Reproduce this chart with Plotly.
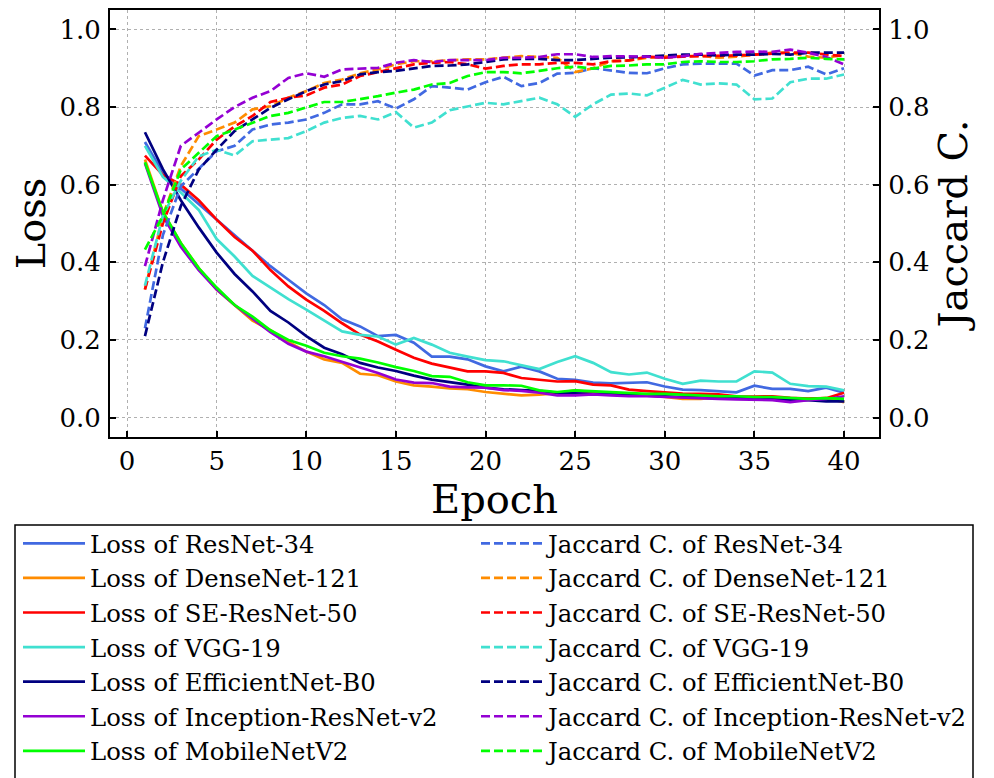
import plotly.graph_objects as go

epochs = list(range(1, 41))

models = ["ResNet-34", "DenseNet-121", "SE-ResNet-50", "VGG-19",
          "EfficientNet-B0", "Inception-ResNet-v2", "MobileNetV2"]
colors = ["#4169E1", "#FF8C00", "#FF0000", "#40E0D0",
          "#000080", "#9400D3", "#00FF00"]

loss_resnet34 = [0.71, 0.63, 0.59, 0.55, 0.51, 0.47, 0.43, 0.39, 0.355, 0.32,
                 0.29, 0.253, 0.235, 0.21, 0.213, 0.193, 0.157, 0.157, 0.15, 0.132,
                 0.119, 0.131, 0.119, 0.10, 0.097, 0.09, 0.088, 0.089, 0.091, 0.08,
                 0.072, 0.071, 0.068, 0.065, 0.082, 0.074, 0.074, 0.068, 0.077, 0.064]
loss_densenet121 = [0.665, 0.53, 0.45, 0.385, 0.33, 0.29, 0.25, 0.225, 0.195, 0.17,
                    0.15, 0.141, 0.113, 0.109, 0.093, 0.083, 0.08, 0.075, 0.073, 0.066,
                    0.062, 0.057, 0.059, 0.063, 0.07, 0.065, 0.062, 0.06, 0.058, 0.053,
                    0.048, 0.048, 0.052, 0.05, 0.05, 0.048, 0.047, 0.048, 0.05, 0.04]
loss_seresnet50 = [0.675, 0.625, 0.60, 0.56, 0.51, 0.465, 0.43, 0.38, 0.338, 0.304,
                   0.275, 0.243, 0.214, 0.196, 0.175, 0.154, 0.139, 0.128, 0.119, 0.119,
                   0.115, 0.102, 0.098, 0.093, 0.094, 0.085, 0.083, 0.072, 0.068, 0.065,
                   0.062, 0.061, 0.060, 0.055, 0.054, 0.055, 0.051, 0.049, 0.05, 0.064]
loss_vgg19 = [0.70, 0.62, 0.58, 0.535, 0.46, 0.415, 0.365, 0.335, 0.305, 0.278,
              0.25, 0.222, 0.213, 0.209, 0.188, 0.205, 0.188, 0.167, 0.157, 0.148,
              0.145, 0.135, 0.125, 0.143, 0.158, 0.141, 0.117, 0.111, 0.116, 0.10,
              0.087, 0.095, 0.093, 0.093, 0.119, 0.116, 0.087, 0.081, 0.080, 0.070]
loss_effb0 = [0.735, 0.64, 0.56, 0.49, 0.425, 0.37, 0.325, 0.275, 0.245, 0.21,
              0.18, 0.163, 0.141, 0.129, 0.12, 0.108, 0.098, 0.092, 0.085, 0.077,
              0.073, 0.071, 0.069, 0.064, 0.063, 0.062, 0.06, 0.058, 0.057, 0.055,
              0.053, 0.051, 0.05, 0.05, 0.048, 0.047, 0.045, 0.045, 0.042, 0.042]
loss_inception = [0.655, 0.52, 0.44, 0.38, 0.33, 0.29, 0.255, 0.22, 0.19, 0.17,
                  0.158, 0.144, 0.128, 0.115, 0.098, 0.09, 0.089, 0.08, 0.078, 0.077,
                  0.071, 0.069, 0.064, 0.057, 0.057, 0.06, 0.057, 0.055, 0.055, 0.053,
                  0.051, 0.05, 0.048, 0.047, 0.046, 0.045, 0.04, 0.045, 0.048, 0.055]
loss_mobilenet = [0.658, 0.53, 0.45, 0.385, 0.335, 0.29, 0.26, 0.225, 0.20, 0.185,
                  0.167, 0.158, 0.152, 0.142, 0.13, 0.12, 0.107, 0.105, 0.091, 0.083,
                  0.083, 0.082, 0.07, 0.066, 0.07, 0.068, 0.065, 0.064, 0.061, 0.061,
                  0.059, 0.057, 0.055, 0.055, 0.053, 0.053, 0.05, 0.048, 0.05, 0.048]

jac_resnet34 = [0.23, 0.47, 0.596, 0.64, 0.686, 0.70, 0.742, 0.755, 0.76, 0.768,
                0.785, 0.807, 0.807, 0.815, 0.796, 0.82, 0.854, 0.85, 0.845, 0.864,
                0.878, 0.854, 0.862, 0.886, 0.888, 0.90, 0.893, 0.888, 0.887, 0.90,
                0.91, 0.912, 0.912, 0.912, 0.881, 0.895, 0.895, 0.904, 0.884, 0.90]
jac_densenet121 = [0.33, 0.52, 0.648, 0.725, 0.742, 0.76, 0.794, 0.802, 0.824, 0.841,
                   0.862, 0.871, 0.887, 0.897, 0.91, 0.918, 0.918, 0.921, 0.923, 0.923,
                   0.927, 0.931, 0.929, 0.927, 0.89, 0.90, 0.918, 0.92, 0.927, 0.93,
                   0.931, 0.932, 0.927, 0.93, 0.935, 0.94, 0.94, 0.93, 0.927, 0.935]
jac_seresnet50 = [0.33, 0.50, 0.622, 0.665, 0.716, 0.75, 0.777, 0.813, 0.824, 0.83,
                  0.85, 0.858, 0.88, 0.89, 0.90, 0.91, 0.914, 0.916, 0.91, 0.899,
                  0.906, 0.91, 0.91, 0.914, 0.914, 0.91, 0.918, 0.92, 0.93, 0.927,
                  0.93, 0.931, 0.931, 0.933, 0.935, 0.937, 0.94, 0.94, 0.935, 0.931]
jac_vgg19 = [0.34, 0.52, 0.61, 0.673, 0.69, 0.675, 0.712, 0.716, 0.72, 0.738,
             0.76, 0.772, 0.777, 0.768, 0.787, 0.747, 0.76, 0.792, 0.802, 0.811,
             0.807, 0.815, 0.824, 0.807, 0.775, 0.807, 0.832, 0.835, 0.83, 0.85,
             0.87, 0.858, 0.861, 0.858, 0.82, 0.822, 0.864, 0.873, 0.873, 0.884]
jac_effb0 = [0.21, 0.40, 0.545, 0.639, 0.69, 0.738, 0.768, 0.798, 0.82, 0.841,
             0.858, 0.867, 0.884, 0.89, 0.893, 0.90, 0.906, 0.907, 0.91, 0.916,
             0.923, 0.924, 0.924, 0.921, 0.921, 0.924, 0.927, 0.928, 0.93, 0.933,
             0.935, 0.935, 0.933, 0.935, 0.935, 0.937, 0.935, 0.94, 0.94, 0.94]
jac_inception = [0.39, 0.56, 0.70, 0.735, 0.768, 0.80, 0.824, 0.841, 0.875, 0.887,
                 0.878, 0.897, 0.899, 0.901, 0.914, 0.921, 0.916, 0.921, 0.921, 0.921,
                 0.927, 0.927, 0.929, 0.936, 0.936, 0.929, 0.931, 0.931, 0.93, 0.927,
                 0.931, 0.937, 0.94, 0.942, 0.943, 0.942, 0.948, 0.94, 0.929, 0.91]
jac_mobilenet = [0.433, 0.52, 0.639, 0.682, 0.725, 0.742, 0.76, 0.777, 0.785, 0.798,
                 0.813, 0.813, 0.82, 0.828, 0.837, 0.845, 0.858, 0.862, 0.88, 0.89,
                 0.89, 0.887, 0.893, 0.90, 0.904, 0.899, 0.906, 0.907, 0.91, 0.91,
                 0.916, 0.918, 0.916, 0.916, 0.918, 0.923, 0.924, 0.927, 0.924, 0.923]

losses = [loss_resnet34, loss_densenet121, loss_seresnet50, loss_vgg19,
          loss_effb0, loss_inception, loss_mobilenet]
jaccards = [jac_resnet34, jac_densenet121, jac_seresnet50, jac_vgg19,
            jac_effb0, jac_inception, jac_mobilenet]

FONT = "DejaVu Serif"
LW = 2.7

fig = go.Figure()
for name, col, ys in zip(models, colors, losses):
    fig.add_trace(go.Scatter(x=epochs, y=ys, mode="lines", name="Loss of " + name,
                             line=dict(color=col, width=LW), yaxis="y", legend="legend"))
for name, col, ys in zip(models, colors, jaccards):
    fig.add_trace(go.Scatter(x=epochs, y=ys, mode="lines", name="Jaccard C. of " + name,
                             line=dict(color=col, width=LW, dash="9px,4px"),
                             yaxis="y2", legend="legend2"))

# page has an 8px body margin; work in screen coordinates and shift
OFF = 8
W, H = 994 - OFF, 778 - OFF
L, R, T, B = 110 - OFF, 879 - OFF, 10 - OFF, 437 - OFF
pw, ph = R - L, B - T

def px(xs):
    return (xs - OFF - L) / pw

def py(ys):
    return (B - (ys - OFF)) / ph

axis_common = dict(showline=True, linecolor="black", linewidth=2,
                   ticks="inside", ticklen=6, tickwidth=1.5, tickcolor="black",
                   tickfont=dict(family=FONT, size=26, color="black"),
                   zeroline=False)

fig.update_layout(
    width=W, height=H,
    margin=dict(l=L, r=W - R, t=T, b=H - B, autoexpand=False),
    plot_bgcolor="white", paper_bgcolor="white",
    font=dict(family=FONT, color="black"),
    xaxis=dict(range=[-0.95, 41.95], tickvals=list(range(0, 41, 5)),
               mirror=True, showgrid=True, gridcolor="#b0b0b0", gridwidth=1,
               griddash="dot",
               title=dict(text="Epoch", font=dict(family=FONT, size=40), standoff=4),
               **axis_common),
    yaxis=dict(range=[-0.05, 1.05], tickvals=[0, 0.2, 0.4, 0.6, 0.8, 1.0],
               tickformat=".1f", mirror=True, showgrid=True, gridcolor="#b0b0b0",
               gridwidth=1, griddash="dot", ticklabelstandoff=2,
               title=dict(text="Loss", font=dict(family=FONT, size=40), standoff=10),
               **axis_common),
    yaxis2=dict(range=[-0.05, 1.05], tickvals=[0, 0.2, 0.4, 0.6, 0.8, 1.0],
                tickformat=".1f", overlaying="y", side="right", showgrid=False,
                ticklabelstandoff=2,
                title=dict(text="Jaccard C.", font=dict(family=FONT, size=40), standoff=8),
                **axis_common),
    legend=dict(x=px(18), y=py(521), xanchor="left", yanchor="top",
                font=dict(family=FONT, size=24.3), bgcolor="rgba(0,0,0,0)",
                tracegroupgap=0, itemwidth=62),
    legend2=dict(x=px(476), y=py(521), xanchor="left", yanchor="top",
                 font=dict(family=FONT, size=24.3), bgcolor="rgba(0,0,0,0)",
                 tracegroupgap=0, itemwidth=62),
    shapes=[dict(type="rect", xref="paper", yref="paper",
                 x0=px(15), x1=px(973), y0=py(525), y1=py(800),
                 line=dict(color="black", width=1.5), fillcolor="rgba(0,0,0,0)",
                 layer="above")],
)

fig.write_html("out.html")
